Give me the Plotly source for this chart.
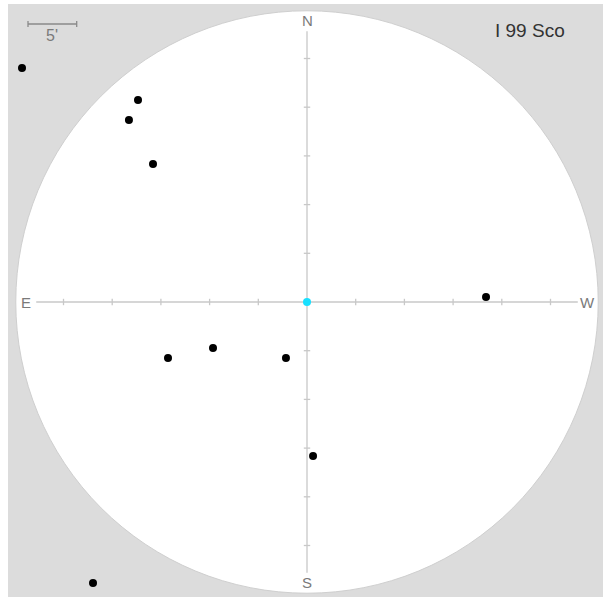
import plotly.graph_objects as go

# Field around I 99 Sco: offsets in arcminutes (east positive, north positive)
star_name = "I 99 Sco"
east_arcmin = [29.26, 17.35, 18.28, 15.81, -18.38, 14.27, 9.65, 2.16, -0.62, 21.97]
north_arcmin = [24.02, 20.74, 18.69, 14.17, 0.51, -5.75, -4.72, -5.75, -15.81, -28.85]
target_east = [0.0]
target_north = [0.0]

field_radius = 29.9          # arcmin
tick_step = 5                # arcmin between ticks
tick_values = [5, 10, 15, 20, 25]
axis_half = 27.8
compass = {"N": (0, 28.9), "S": (0, -28.8), "E": (28.8, 0), "W": (-28.8, 0)}

W, H = 603, 599
scale = 9.74                 # pixels per arcmin
cx, cy = 307, 302            # pixel position of field centre

fig = go.Figure()

shapes = []
# grey backdrop
shapes.append(dict(type="rect", xref="paper", yref="paper", x0=8 / W, x1=1, y0=1 - 597 / H, y1=1 - 4 / H,
                   fillcolor="#dcdcdc", line=dict(width=0), layer="below"))
# field circle
shapes.append(dict(type="circle", xref="x", yref="y", x0=-field_radius, x1=field_radius,
                   y0=-field_radius, y1=field_radius, fillcolor="white",
                   line=dict(color="#cfcfcf", width=1), layer="below"))
# cross-hair
axis_col = "#c8c8c8"
shapes.append(dict(type="line", xref="x", yref="y", x0=-axis_half, x1=axis_half, y0=0, y1=0,
                   line=dict(color=axis_col, width=1.3), layer="below"))
shapes.append(dict(type="line", xref="x", yref="y", x0=0, x1=0, y0=-axis_half, y1=axis_half,
                   line=dict(color=axis_col, width=1.3), layer="below"))
tl = 0.33
for t in tick_values:
    for s in (1, -1):
        shapes.append(dict(type="line", xref="x", yref="y", x0=s * t, x1=s * t, y0=-tl, y1=tl,
                           line=dict(color=axis_col, width=1.3), layer="below"))
        shapes.append(dict(type="line", xref="x", yref="y", x0=-tl, x1=tl, y0=s * t, y1=s * t,
                           line=dict(color=axis_col, width=1.3), layer="below"))

# scale bar (5 arcmin)
bar_col = "#8a8a8a"
bx0, by = 28, 24
bx1 = bx0 + tick_step * scale
shapes.append(dict(type="line", xref="paper", yref="paper", x0=bx0 / W, x1=bx1 / W,
                   y0=1 - by / H, y1=1 - by / H, line=dict(color=bar_col, width=1.3)))
for bx in (bx0, bx1):
    shapes.append(dict(type="line", xref="paper", yref="paper", x0=bx / W, x1=bx / W,
                       y0=1 - (by - 3) / H, y1=1 - (by + 3) / H, line=dict(color=bar_col, width=1.3)))

annotations = []
for lab, (ex, ny) in compass.items():
    annotations.append(dict(x=ex, y=ny, xref="x", yref="y", text=lab, showarrow=False,
                            font=dict(family="Liberation Sans, Arial", size=15, color="#7a7a7a"),
                            xanchor="center", yanchor="middle"))
annotations.append(dict(x=(bx0 + bx1) / 2 / W, y=1 - 36 / H, xref="paper", yref="paper",
                        text="5'", showarrow=False,
                        font=dict(family="Liberation Sans, Arial", size=16, color="#7a7a7a"),
                        xanchor="center", yanchor="middle"))
annotations.append(dict(x=530 / W, y=1 - 30 / H, xref="paper", yref="paper", text=star_name,
                        showarrow=False,
                        font=dict(family="Liberation Sans, Arial", size=19, color="#333333"),
                        xanchor="center", yanchor="middle"))

fig.add_trace(go.Scatter(x=east_arcmin, y=north_arcmin, mode="markers",
                         marker=dict(color="black", size=8, line=dict(width=0)),
                         hoverinfo="skip", showlegend=False, cliponaxis=False))
fig.add_trace(go.Scatter(x=target_east, y=target_north, mode="markers",
                         marker=dict(color="#19e0ff", size=8, line=dict(width=0)),
                         hoverinfo="skip", showlegend=False))

fig.update_layout(
    width=W, height=H,
    margin=dict(l=0, r=0, t=0, b=0),
    paper_bgcolor="white", plot_bgcolor="rgba(0,0,0,0)",
    shapes=shapes, annotations=annotations,
    xaxis=dict(range=[cx / scale, -(W - cx) / scale], visible=False, fixedrange=True),
    yaxis=dict(range=[-(H - cy) / scale, cy / scale], visible=False, fixedrange=True),
    showlegend=False,
)

fig.write_html("out.html")
